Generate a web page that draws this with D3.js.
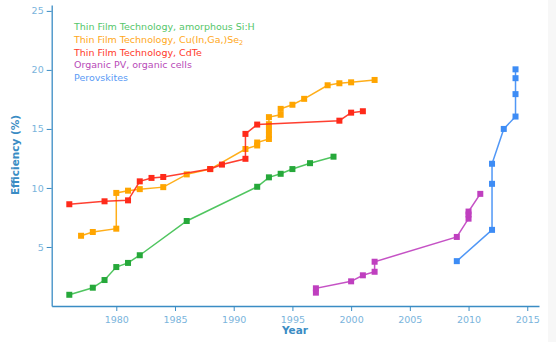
<!DOCTYPE html>
<html><head><meta charset="utf-8">
<script src="https://cdn.jsdelivr.net/npm/d3@7"></script>
<style>
html,body{margin:0;padding:0;background:#f7f7f7;}
svg{display:block;}
</style></head>
<body>
<svg id="c" width="556" height="342"></svg>
<script>
const seriesNames = ["Thin Film Technology, amorphous Si:H","Thin Film Technology, Cu(In,Ga,)Se","Thin Film Technology, CdTe","Organic PV, organic cells","Perovskites"];
const seriesColors = ["#3cbf4e","#ffa500","#ff2a1a","#bf3fbf","#3d8cf5"];
const legendColors = ["#55c66a","#ffa820","#ff3a2a","#b84ab8","#5a9af5"];

const siYears = [1976,1978,1979,1980,1981,1982,1986,1992,1993,1994,1995,1996.5,1998.5];
const siValues = [0.95,1.55,2.2,3.3,3.65,4.3,7.2,10.1,10.9,11.2,11.6,12.1,12.65];

const cigsYears = [1977,1978,1980,1980,1981,1982,1984,1986,1988,1991,1992,1992,1993,1993,1993,1993,1993,1994,1994,1995,1996,1998,1999,2000,2002];
const cigsValues = [5.95,6.27,6.55,9.58,9.77,9.9,10.07,11.15,11.6,13.3,13.6,13.85,14.15,14.5,14.95,15.4,16.0,16.2,16.7,17.05,17.55,18.7,18.87,18.95,19.15];

const cdteYears = [1976,1979,1981,1982,1983,1984,1988,1989,1991,1991,1992,1999,2000,2001];
const cdteValues = [8.62,8.87,8.95,10.56,10.85,10.93,11.6,11.98,12.47,14.58,15.37,15.7,16.38,16.5];

const opvYears = [1997,1997,2000,2001,2002,2002,2009,2010,2010,2010,2011];
const opvValues = [1.13,1.5,2.09,2.6,2.9,3.75,5.85,7.4,7.75,8.0,9.5];

const perovYears = [2009,2012,2012,2012,2013,2014,2014,2014,2014];
const perovValues = [3.8,6.45,10.35,12.05,15.0,16.05,17.95,19.3,20.05];

const xTicks = [1980,1985,1990,1995,2000,2005,2010,2015];
const yTicks = [5,10,15,20,25];

const svg = d3.select("#c");
svg.append("rect").attr("x",0).attr("y",0).attr("width",548).attr("height",342).attr("fill","#ffffff");

const x = d3.scaleLinear().domain([1974.5,2016]).range([51.7,539]);
const y = d3.scaleLinear().domain([0,25.5]).range([306,5]);

const axisColor = "#3a8cc4";
const tickText = "#7ab4dc";

const gx = svg.append("g").attr("transform","translate(0,306)")
  .call(d3.axisBottom(x).tickValues(xTicks).tickFormat(d3.format("d")).tickSize(5).tickSizeOuter(0));
const gy = svg.append("g").attr("transform","translate(51.7,0)")
  .call(d3.axisLeft(y).tickValues(yTicks).tickSize(5).tickSizeOuter(0));
[gx,gy].forEach(g=>{
  g.select(".domain").attr("stroke",axisColor).attr("stroke-width",1.3);
  g.selectAll(".tick line").attr("stroke",axisColor);
  g.selectAll(".tick text").attr("fill",tickText).attr("font-family","DejaVu Sans, Verdana, sans-serif").attr("font-size","9.5px");
});
gx.selectAll(".tick text").attr("dy","0.9em");

svg.append("text").attr("x",295).attr("y",334).attr("text-anchor","middle")
  .attr("font-family","DejaVu Sans, Verdana, sans-serif").attr("font-size","10.5px").attr("font-weight","bold")
  .attr("fill","#3a8cc4").text("Year");
svg.append("text").attr("transform","translate(19,155) rotate(-90)").attr("text-anchor","middle")
  .attr("font-family","DejaVu Sans, Verdana, sans-serif").attr("font-size","10.5px").attr("font-weight","bold")
  .attr("fill","#3a8cc4").text("Efficiency (%)");

const allSeries = [
  [siYears,siValues],[cigsYears,cigsValues],[cdteYears,cdteValues],[opvYears,opvValues],[perovYears,perovValues]
];
const line = d3.line().x(d=>x(d[0])).y(d=>y(d[1]));
allSeries.forEach((s,i)=>{
  const pts = s[0].map((yr,j)=>[yr,s[1][j]]);
  const g = svg.append("g");
  g.append("path").datum(pts).attr("d",line).attr("fill","none")
    .attr("stroke",seriesColors[i]).attr("stroke-width",1.5).attr("stroke-opacity",0.9);
  g.selectAll("rect").data(pts).join("rect")
    .attr("x",d=>x(d[0])-3).attr("y",d=>y(d[1])-3).attr("width",6).attr("height",6)
    .attr("fill",i===0?"#26a83a":seriesColors[i]);
});

const leg = svg.append("g").attr("font-family","DejaVu Sans, Verdana, sans-serif").attr("font-size","9.5px");
seriesNames.forEach((n,i)=>{
  const t = leg.append("text").attr("x",74).attr("y",30+i*12.8).attr("fill",legendColors[i]).text(n);
  if(i===1){ t.append("tspan").attr("font-size","6.5px").attr("dy","2.5").text("2"); }
});
</script>
</body></html>
